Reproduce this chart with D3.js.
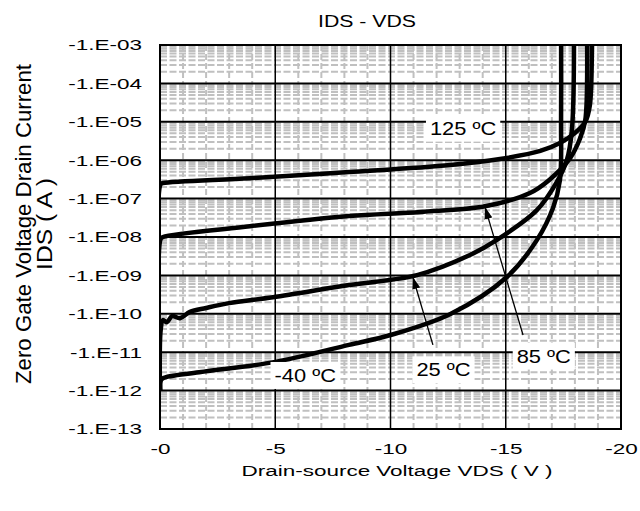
<!DOCTYPE html>
<html>
<head>
<meta charset="utf-8">
<script src="https://cdn.jsdelivr.net/npm/d3@7"></script>
<style>
  body { margin: 0; background: #fff; }
  text { font-family: "Liberation Sans", Arial, sans-serif; fill: #000; }
</style>
</head>
<body>
<div id="chart"></div>
<script>
// drain-source voltage (V) and |IDS| (A) for each temperature
const vM40 = [0, -0.03, -0.13, -1.7, -5.0, -8.2, -10.0, -12.6, -15.05, -16.35, -17.05, -17.35, -17.4, -17.4];
const iM40 = [1e-12, 1.8e-12, 2.1e-12, 3.0e-12, 5.6e-12, 1.55e-11, 2.8e-11, 9.9e-11, 9.1e-10, 8.3e-9, 5.7e-8, 3.0e-7, 1.1e-5, 3e-3];

const v25 = [0, -0.03, -0.13, -0.3, -0.52, -0.87, -1.3, -2.0, -3.0, -4.9, -8.2, -11.15, -13.45, -14.6, -16.35, -17.2, -17.65, -17.87, -17.96];
const i25 = [1e-12, 3.8e-11, 6.9e-11, 6.0e-11, 8.7e-11, 7.7e-11, 1.12e-10, 1.42e-10, 1.9e-10, 2.7e-10, 5.6e-10, 1.02e-9, 3.4e-9, 8.3e-9, 5.0e-8, 2.6e-7, 1.0e-6, 6.2e-6, 3e-3];

const v85 = [0, -0.03, -0.13, -3.9, -8.2, -11.3, -14.1, -16.05, -16.9, -17.8, -18.2, -18.45, -18.52];
const i85 = [1e-12, 9e-9, 1.0e-8, 1.9e-8, 3.5e-8, 4.5e-8, 6.3e-8, 1.4e-7, 3.1e-7, 1.15e-6, 3.4e-6, 1.1e-5, 3e-3];

const v125 = [0, -0.03, -0.13, -3.9, -8.2, -12.6, -14.75, -16.5, -17.35, -18.0, -18.45, -18.65, -18.74];
const i125 = [1e-12, 2.4e-7, 2.55e-7, 3.4e-7, 4.9e-7, 7.5e-7, 1.07e-6, 1.74e-6, 2.8e-6, 5.1e-6, 9.9e-6, 2.7e-5, 3e-3];

const xTicks = [0, -5, -10, -15, -20];
const xTickLabels = ['-0', '-5', '-10', '-15', '-20'];
const yTicks = [1e-13, 1e-12, 1e-11, 1e-10, 1e-9, 1e-8, 1e-7, 1e-6, 1e-5, 1e-4, 1e-3];
const yTickLabels = ['-1.E-13', '-1.E-12', '-1.E-11', '-1.E-10', '-1.E-09', '-1.E-08',
  '-1.E-07', '-1.E-06', '-1.E-05', '-1.E-04', '-1.E-03'];

// temperature labels and arrows, in data units
const labelText = ['125 \u00baC', '85 \u00baC', '25 \u00baC', '-40 \u00baC'];
const labelV = [-13.15, -16.65, -12.3, -6.3];
const labelI = [6.9e-6, 8.0e-12, 3.5e-12, 2.5e-12];
const arrowFrom = [[-11.84, 1.55e-11], [-15.75, 2.8e-11]];
const arrowTo = [[-10.97, 9.1e-10], [-14.1, 6.0e-8]];

const width = 640, height = 511;
const margin = { top: 45, right: 19, bottom: 82, left: 160 };
const innerW = width - margin.left - margin.right;
const innerH = height - margin.top - margin.bottom;
const stretch = 1.45; // the picture's text is wider than the font

const svg = d3.select('#chart').append('svg')
  .attr('width', width)
  .attr('height', height);

const x = d3.scaleLinear().domain([0, -20]).range([margin.left, margin.left + innerW]);
const y = d3.scaleLog().domain([1e-13, 1e-3]).range([margin.top + innerH, margin.top]);

function widen(sel) {
  sel.each(function() {
    const w = this.getComputedTextLength();
    d3.select(this).attr('textLength', w * stretch).attr('lengthAdjust', 'spacingAndGlyphs');
  });
}

svg.append('defs').append('clipPath').attr('id', 'plot')
  .append('rect')
  .attr('x', margin.left).attr('y', margin.top)
  .attr('width', innerW).attr('height', innerH);

// minor grid
const minorY = [];
yTicks.slice(0, -1).forEach(t => { for (let m = 2; m <= 9; m++) minorY.push(t * m); });
const minorX = d3.range(-1, -20, -1).filter(v => v % 5 !== 0);

const grid = svg.append('g');
grid.selectAll('line.minY').data(minorY).enter().append('line')
  .attr('x1', margin.left).attr('x2', margin.left + innerW)
  .attr('y1', d => y(d)).attr('y2', d => y(d))
  .attr('stroke', '#c0c0c0').attr('stroke-width', 2)
  .attr('stroke-dasharray', '7,2.5');
grid.selectAll('line.minX').data(minorX).enter().append('line')
  .attr('x1', d => x(d)).attr('x2', d => x(d))
  .attr('y1', margin.top).attr('y2', margin.top + innerH)
  .attr('stroke', '#c0c0c0').attr('stroke-width', 2)
  .attr('stroke-dasharray', '6,3');

// major grid
grid.selectAll('line.majY').data(yTicks).enter().append('line')
  .attr('x1', margin.left).attr('x2', margin.left + innerW)
  .attr('y1', d => y(d)).attr('y2', d => y(d))
  .attr('stroke', '#000').attr('stroke-width', 2);
grid.selectAll('line.majX').data(xTicks).enter().append('line')
  .attr('x1', d => x(d)).attr('x2', d => x(d))
  .attr('y1', margin.top).attr('y2', margin.top + innerH)
  .attr('stroke', '#000').attr('stroke-width', 1.5);

// curves
const series = [[vM40, iM40], [v25, i25], [v85, i85], [v125, i125]];
const line = d3.line()
  .x(d => x(d[0]))
  .y(d => y(d[1]))
  .curve(d3.curveCatmullRom.alpha(0.5));

svg.append('g').attr('clip-path', 'url(#plot)')
  .selectAll('path.curve').data(series).enter().append('path')
  .attr('d', s => line(s[0].map((v, i) => [v, s[1][i]])))
  .attr('fill', 'none')
  .attr('stroke', '#000')
  .attr('stroke-width', 4.5)
  .attr('stroke-linejoin', 'round');

// border
svg.append('rect')
  .attr('x', margin.left).attr('y', margin.top)
  .attr('width', innerW).attr('height', innerH)
  .attr('fill', 'none').attr('stroke', '#000').attr('stroke-width', 2);

// arrows
svg.append('defs').append('marker')
  .attr('id', 'head').attr('viewBox', '0 0 12 8')
  .attr('refX', 12).attr('refY', 4)
  .attr('markerWidth', 12).attr('markerHeight', 8)
  .attr('markerUnits', 'userSpaceOnUse')
  .attr('orient', 'auto')
  .append('path').attr('d', 'M0,0 L12,4 L0,8 Z').attr('fill', '#000');

svg.selectAll('line.arrow').data(arrowFrom).enter().append('line')
  .attr('x1', d => x(d[0])).attr('y1', d => y(d[1]))
  .attr('x2', (d, i) => x(arrowTo[i][0])).attr('y2', (d, i) => y(arrowTo[i][1]))
  .attr('stroke', '#000').attr('stroke-width', 1.3)
  .attr('marker-end', 'url(#head)');

// temperature labels on white boxes
const labels = svg.selectAll('g.lab').data(labelText).enter().append('g')
  .attr('transform', (d, i) => `translate(${x(labelV[i])},${y(labelI[i])})`);
labels.append('text')
  .attr('text-anchor', 'middle').attr('dy', '0.35em')
  .attr('font-size', 19)
  .text(d => d)
  .each(function() {
    const w = this.getComputedTextLength();
    d3.select(this).attr('textLength', w * 1.15).attr('lengthAdjust', 'spacingAndGlyphs');
  });
labels.each(function() {
  const g = d3.select(this);
  const b = g.select('text').node().getBBox();
  g.insert('rect', 'text')
    .attr('x', b.x - 4).attr('y', b.y - 3)
    .attr('width', b.width + 8).attr('height', b.height + 6)
    .attr('fill', '#fff');
});

// axes
const xAxis = d3.axisBottom(x).tickValues(xTicks)
  .tickFormat((d, i) => xTickLabels[i]).tickSize(0).tickPadding(14);
svg.append('g')
  .attr('transform', `translate(0,${margin.top + innerH})`)
  .call(xAxis)
  .call(g => g.select('.domain').remove())
  .selectAll('text')
  .attr('font-size', 15.5)
  .attr('font-family', '"Liberation Sans", Arial, sans-serif')
  .call(widen);

const yAxis = d3.axisLeft(y).tickValues(yTicks)
  .tickFormat((d, i) => yTickLabels[i]).tickSize(0).tickPadding(18);
svg.append('g')
  .attr('transform', `translate(${margin.left},0)`)
  .call(yAxis)
  .call(g => g.select('.domain').remove())
  .selectAll('text')
  .attr('font-size', 15.5)
  .attr('font-family', '"Liberation Sans", Arial, sans-serif')
  .call(widen);

// titles
svg.append('text')
  .attr('x', 367).attr('y', 27)
  .attr('text-anchor', 'middle').attr('font-size', 16)
  .attr('textLength', 98).attr('lengthAdjust', 'spacingAndGlyphs')
  .text('IDS - VDS');

svg.append('text')
  .attr('x', 397).attr('y', 476)
  .attr('text-anchor', 'middle').attr('font-size', 15.5)
  .attr('textLength', 311).attr('lengthAdjust', 'spacingAndGlyphs')
  .text('Drain-source  Voltage VDS ( V )');

const yt = svg.append('text')
  .attr('transform', `translate(0,224) scale(${stretch},1) rotate(-90)`)
  .attr('text-anchor', 'middle').attr('font-size', 15.5);
yt.append('tspan').attr('x', 0).attr('y', 31 / stretch)
  .attr('textLength', 320).attr('lengthAdjust', 'spacingAndGlyphs')
  .text('Zero  Gate  Voltage  Drain  Current');
yt.append('tspan').attr('x', 0).attr('y', 52 / stretch)
  .attr('textLength', 92).attr('lengthAdjust', 'spacingAndGlyphs')
  .text('IDS ( A )');
</script>
</body>
</html>
